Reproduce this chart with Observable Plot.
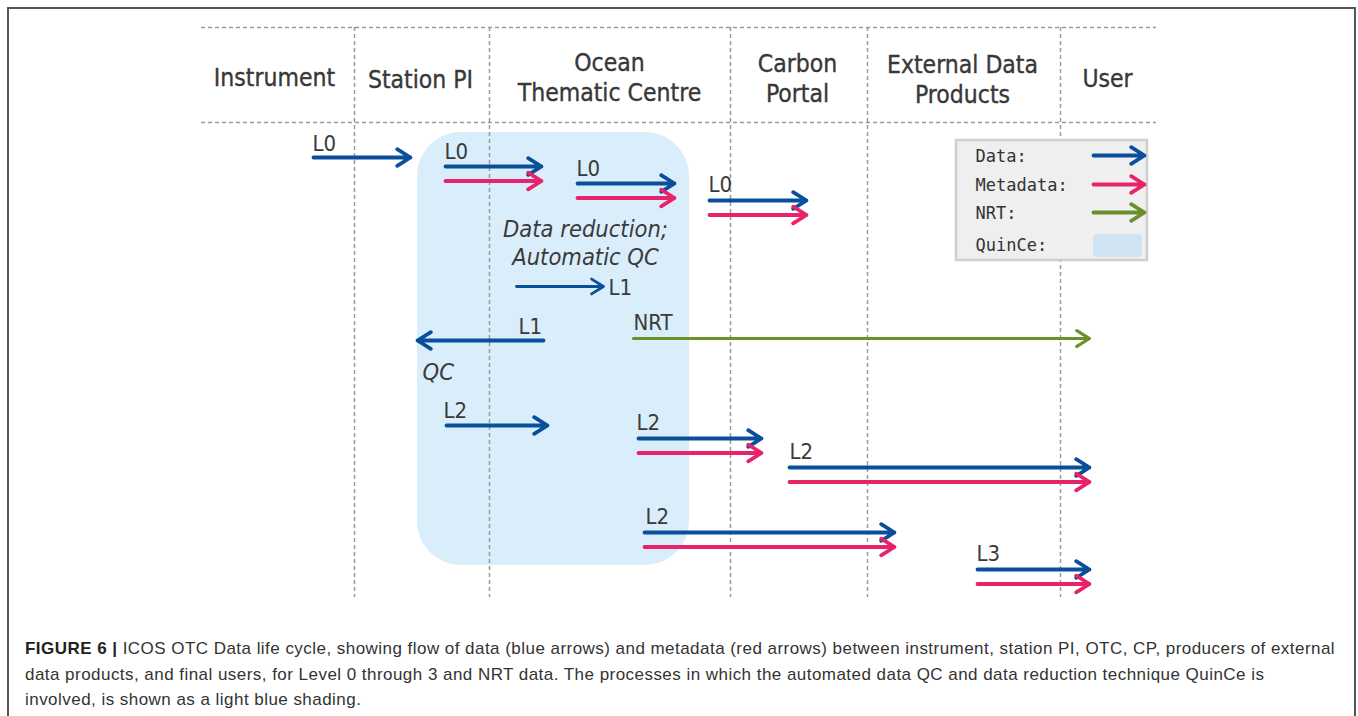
<!DOCTYPE html>
<html>
<head>
<meta charset="utf-8">
<script src="https://cdn.jsdelivr.net/npm/d3@7"></script>
<script src="https://cdn.jsdelivr.net/npm/@observablehq/plot@0.6"></script>
<style>
  html, body { margin: 0; padding: 0; background: #fff; width: 1358px; height: 716px; overflow: hidden; }
  #frame { position: absolute; left: 7px; top: 7px; width: 1349px; height: 800px; box-sizing: border-box; border: 2px solid #555; border-bottom: none; }
  #chart { position: absolute; left: 0; top: 0; }
  #caption { position: absolute; left: 25px; top: 636px; font-family: "Liberation Sans", Arial, sans-serif; font-size: 17px; line-height: 25.5px; color: #333; white-space: nowrap; letter-spacing: 0.46px; }
  #caption b { font-weight: bold; color: #222; }
</style>
</head>
<body>
<div id="frame"></div>
<div id="chart"></div>
<div id="caption"><b>FIGURE 6 |</b> ICOS OTC Data life cycle, showing flow of data (blue arrows) and metadata (red arrows) between instrument, station PI, OTC, CP, producers of external<br>data products, and final users, for Level 0 through 3 and NRT data. The processes in which the automated data QC and data reduction technique QuinCe is<br>involved, is shown as a light blue shading.</div>
<script>
// ---- data (diagram coordinates in picture units) ----
const columnNames = ["Instrument", "Station PI", "Ocean\nThematic Centre", "Carbon\nPortal", "External Data\nProducts", "User"];
const columnCenterX = [274, 420, 609, 797, 962, 1107];
const columnCenterY = [76, 78, 76, 77, 78, 77];
const separatorX = [354, 489, 730, 867, 1060];
const headerLineY = [27, 122];

// flows: label, from, to, row y, kinds
const flowLabel = ["L0", "L0", "L0", "L0", "L1", "L1", "NRT", "L2", "L2", "L2", "L2", "L3"];
const flowFrom  = [313, 445, 577, 709, 516, 543, 633, 446, 638, 789, 644, 977];
const flowTo    = [410, 541, 674, 806, 603, 417, 1089, 547, 761, 1089, 894, 1089];
const flowY     = [157, 166, 183, 200, 286, 340, 338, 425, 438, 467, 532, 569];
const flowKind  = ["data", "data+meta", "data+meta", "data+meta", "dataThin", "data", "nrt", "data", "data+meta", "data+meta", "data+meta", "data+meta"];
const flowLabelX = [312, 444, 576, 708, 608, 518, 633, 443, 636, 789, 645, 976];
const flowLabelY = [143, 151, 168, 184, 287, 326, 322, 410, 422, 451, 516, 553];

const notes = ["Data reduction;\nAutomatic QC", "QC"];
const noteX = [585, 422];
const noteY = [242, 372];

const quince = {x1: 417, x2: 689, y1: 132, y2: 565};
const legendNames = ["Data:", "Metadata:", "NRT:", "QuinCe:"];
const legendKinds = ["data", "meta", "nrt", "quince"];
const legendY = [156, 185, 213, 245];

const colors = {data: "#0a4f9c", meta: "#e8236b", nrt: "#6b8f2b", quince: "#d9edfa", quinceLegend: "#cfe3f3"};

// ---- derived tables ----
const separators = separatorX.map(x => ({x}));
const hlines = headerLineY.map(y => ({y}));
const headers = columnNames.map((name, i) => ({name, x: columnCenterX[i], y: columnCenterY[i]}));
const META_OFFSET = 14.5;
const dataArrows = [], metaArrows = [], thinArrows = [], nrtArrows = [];
flowKind.forEach((k, i) => {
  const a = {x1: flowFrom[i], x2: flowTo[i], y: flowY[i]};
  if (k === "nrt") nrtArrows.push(a);
  else if (k === "dataThin") thinArrows.push(a);
  else {
    dataArrows.push(a);
    if (k === "data+meta") metaArrows.push({...a, y: a.y + META_OFFSET});
  }
});
const labels = flowLabel.map((t, i) => ({t, x: flowLabelX[i], y: flowLabelY[i]}));
const centeredNotes = [{t: notes[0], x: noteX[0], y: noteY[0]}];
const leftNotes = [{t: notes[1], x: noteX[1], y: noteY[1]}];

const legendBox = {x1: 956, x2: 1147, y1: 140, y2: 260};
const legendText = legendNames.map((t, i) => ({t, x: 975, y: legendY[i]}));
const legendArrows = legendKinds.slice(0, 3).map((k, i) => ({x1: 1093, x2: 1144, y: legendY[i] - 1, c: colors[k]}));
const legendSwatch = [{x1: 1093, x2: 1142, y1: 234, y2: 257}];

const W = 1358, H = 610;
const font = "'DejaVu Sans Condensed', 'DejaVu Sans', sans-serif";
const dash = {stroke: "#9a9a9a", strokeWidth: 1.5, strokeDasharray: "4,3"};
const SW = 3.8;
const head = {headLength: 6.2, headAngle: 64};
const arrowOpts = (stroke, sw) => ({x1: "x1", x2: "x2", y1: "y", y2: "y", stroke, strokeWidth: sw, ...head});

const chart = Plot.plot({
  width: W, height: H,
  marginTop: 0, marginRight: 0, marginBottom: 0, marginLeft: 0,
  x: {domain: [0, W], range: [0, W], axis: null},
  y: {domain: [0, H], range: [0, H], axis: null},
  style: {background: "transparent", overflow: "visible"},
  marks: [
    Plot.rect([quince], {x1: "x1", x2: "x2", y1: "y1", y2: "y2", fill: colors.quince, rx: 44}),
    Plot.ruleX(separators, {x: "x", y1: headerLineY[0], y2: 597, ...dash}),
    Plot.ruleY(hlines, {y: "y", x1: 201, x2: 1156, ...dash}),
    Plot.text(headers, {x: "x", y: "y", text: "name", fontSize: 24.5, fontFamily: font, fill: "#383838", stroke: "#383838", strokeWidth: 0.35, paintOrder: "fill", lineHeight: 1.2, textAnchor: "middle", lineAnchor: "middle"}),
    Plot.arrow(nrtArrows, {...arrowOpts(colors.nrt, 3.2), headLength: 7}),
    Plot.arrow(dataArrows, arrowOpts(colors.data, SW)),
    Plot.arrow(metaArrows, arrowOpts(colors.meta, SW)),
    Plot.arrow(thinArrows, {...arrowOpts(colors.data, 2.8), headLength: 7.5}),
    Plot.text(labels, {x: "x", y: "y", text: "t", textAnchor: "start", lineAnchor: "middle", fontSize: 22, fontFamily: font, fill: "#3a3a3a"}),
    Plot.text(centeredNotes, {x: "x", y: "y", text: "t", fontSize: 23.5, fontStyle: "italic", fontFamily: font, fill: "#3a3a3a", lineHeight: 1.19, textAnchor: "middle", lineAnchor: "middle"}),
    Plot.text(leftNotes, {x: "x", y: "y", text: "t", fontSize: 23.5, fontStyle: "italic", fontFamily: font, fill: "#3a3a3a", textAnchor: "start", lineAnchor: "middle"}),
    Plot.rect([legendBox], {x1: "x1", x2: "x2", y1: "y1", y2: "y2", fill: "#efefef", stroke: "#cfcfcf", strokeWidth: 2.5}),
    Plot.text(legendText, {x: "x", y: "y", text: "t", textAnchor: "start", lineAnchor: "middle", fontSize: 17, fontFamily: "'DejaVu Sans Mono', monospace", fill: "#333"}),
    Plot.arrow(legendArrows, {x1: "x1", x2: "x2", y1: "y", y2: "y", stroke: "c", strokeWidth: SW, ...head}),
    Plot.rect(legendSwatch, {x1: "x1", x2: "x2", y1: "y1", y2: "y2", fill: colors.quinceLegend, rx: 4})
  ]
});
document.getElementById("chart").appendChild(chart);
</script>
</body>
</html>
